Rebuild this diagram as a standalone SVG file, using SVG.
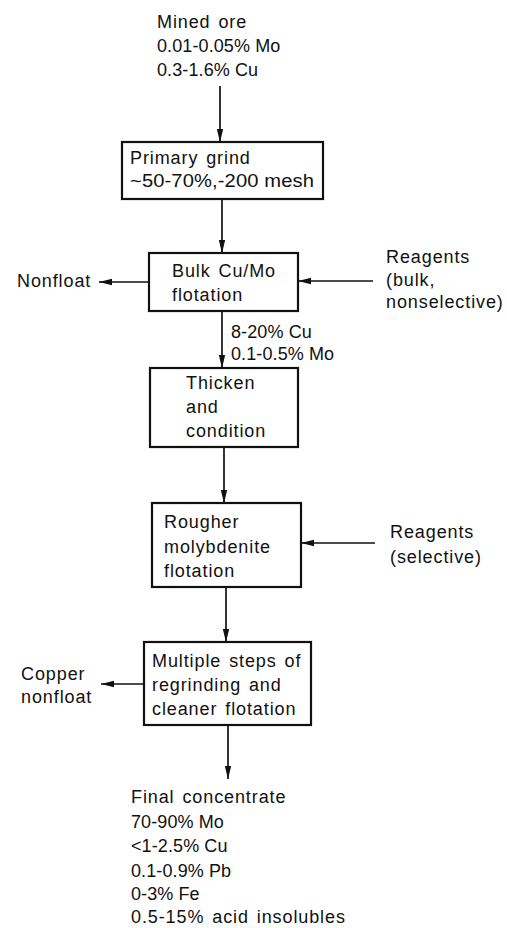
<svg xmlns="http://www.w3.org/2000/svg" width="507" height="928" viewBox="0 0 507 928">
<style>
text{font-family:"Liberation Sans",Arial,sans-serif;font-size:18px;fill:#111;letter-spacing:0.9px;word-spacing:2px}
text.num{letter-spacing:0.1px;word-spacing:0}
.box{fill:#fff;stroke:#111;stroke-width:2.2}
.ln{stroke:#111;stroke-width:1.7;fill:none;marker-end:url(#ah)}
</style>
<defs>
<marker id="ah" markerUnits="userSpaceOnUse" markerWidth="14" markerHeight="8" refX="13" refY="4" orient="auto" viewBox="0 0 14 8">
<path d="M0,0.8 L13,4 L0,7.2 Z" fill="#111"/>
</marker>
</defs>
<rect width="507" height="928" fill="#fff"/>
<g id="connectors">
<line class="ln" x1="220" y1="86" x2="220" y2="142"/>
<line class="ln" x1="222" y1="199" x2="222" y2="253"/>
<line class="ln" x1="149" y1="282" x2="99" y2="282"/>
<line class="ln" x1="373" y1="281" x2="298" y2="281"/>
<line class="ln" x1="222" y1="311" x2="222" y2="368"/>
<line class="ln" x1="224" y1="447" x2="224" y2="503"/>
<line class="ln" x1="375" y1="543" x2="301" y2="543"/>
<line class="ln" x1="226" y1="587" x2="226" y2="642"/>
<line class="ln" x1="144" y1="684" x2="101" y2="684"/>
<line class="ln" x1="228" y1="725" x2="228" y2="779"/>
</g>
<g id="mined-ore">
<text x="157" y="28">Mined ore</text>
<text class="num" x="157" y="52">0.01-0.05% Mo</text>
<text class="num" x="157" y="76">0.3-1.6% Cu</text>
</g>
<g id="primary-grind">
<rect class="box" x="122" y="142" width="201" height="57"/>
<text x="130" y="164">Primary grind</text>
<text class="num" x="130" y="187" textLength="184" lengthAdjust="spacingAndGlyphs">~50-70%,-200 mesh</text>
</g>
<g id="bulk-flotation">
<rect class="box" x="149" y="253" width="149" height="58"/>
<text x="172" y="277">Bulk Cu/Mo</text>
<text x="172" y="301">flotation</text>
</g>
<g id="nonfloat">
<text x="17" y="287">Nonfloat</text>
</g>
<g id="reagents-bulk">
<text x="386" y="263">Reagents</text>
<text x="386" y="286">(bulk,</text>
<text x="386" y="308">nonselective)</text>
</g>
<g id="bulk-concentrate-label">
<text class="num" x="231" y="338">8-20% Cu</text>
<text class="num" x="231" y="360">0.1-0.5% Mo</text>
</g>
<g id="thicken">
<rect class="box" x="150" y="368" width="148" height="79"/>
<text x="186" y="389">Thicken</text>
<text x="186" y="413">and</text>
<text x="186" y="437">condition</text>
</g>
<g id="rougher">
<rect class="box" x="152" y="503" width="149" height="84"/>
<text x="164" y="528">Rougher</text>
<text x="164" y="553">molybdenite</text>
<text x="164" y="577">flotation</text>
</g>
<g id="reagents-selective">
<text x="390" y="538">Reagents</text>
<text x="390" y="563">(selective)</text>
</g>
<g id="cleaner">
<rect class="box" x="144" y="642" width="167" height="83"/>
<text x="152" y="667">Multiple steps of</text>
<text x="152" y="691">regrinding and</text>
<text x="152" y="715">cleaner flotation</text>
</g>
<g id="copper-nonfloat">
<text x="21" y="680">Copper</text>
<text x="21" y="703">nonfloat</text>
</g>
<g id="final-concentrate">
<text x="131" y="803">Final concentrate</text>
<text class="num" x="131" y="828">70-90% Mo</text>
<text class="num" x="131" y="852">&lt;1-2.5% Cu</text>
<text class="num" x="131" y="877">0.1-0.9% Pb</text>
<text class="num" x="131" y="900">0-3% Fe</text>
<text x="131" y="923">0.5-15% acid insolubles</text>
</g>
</svg>
